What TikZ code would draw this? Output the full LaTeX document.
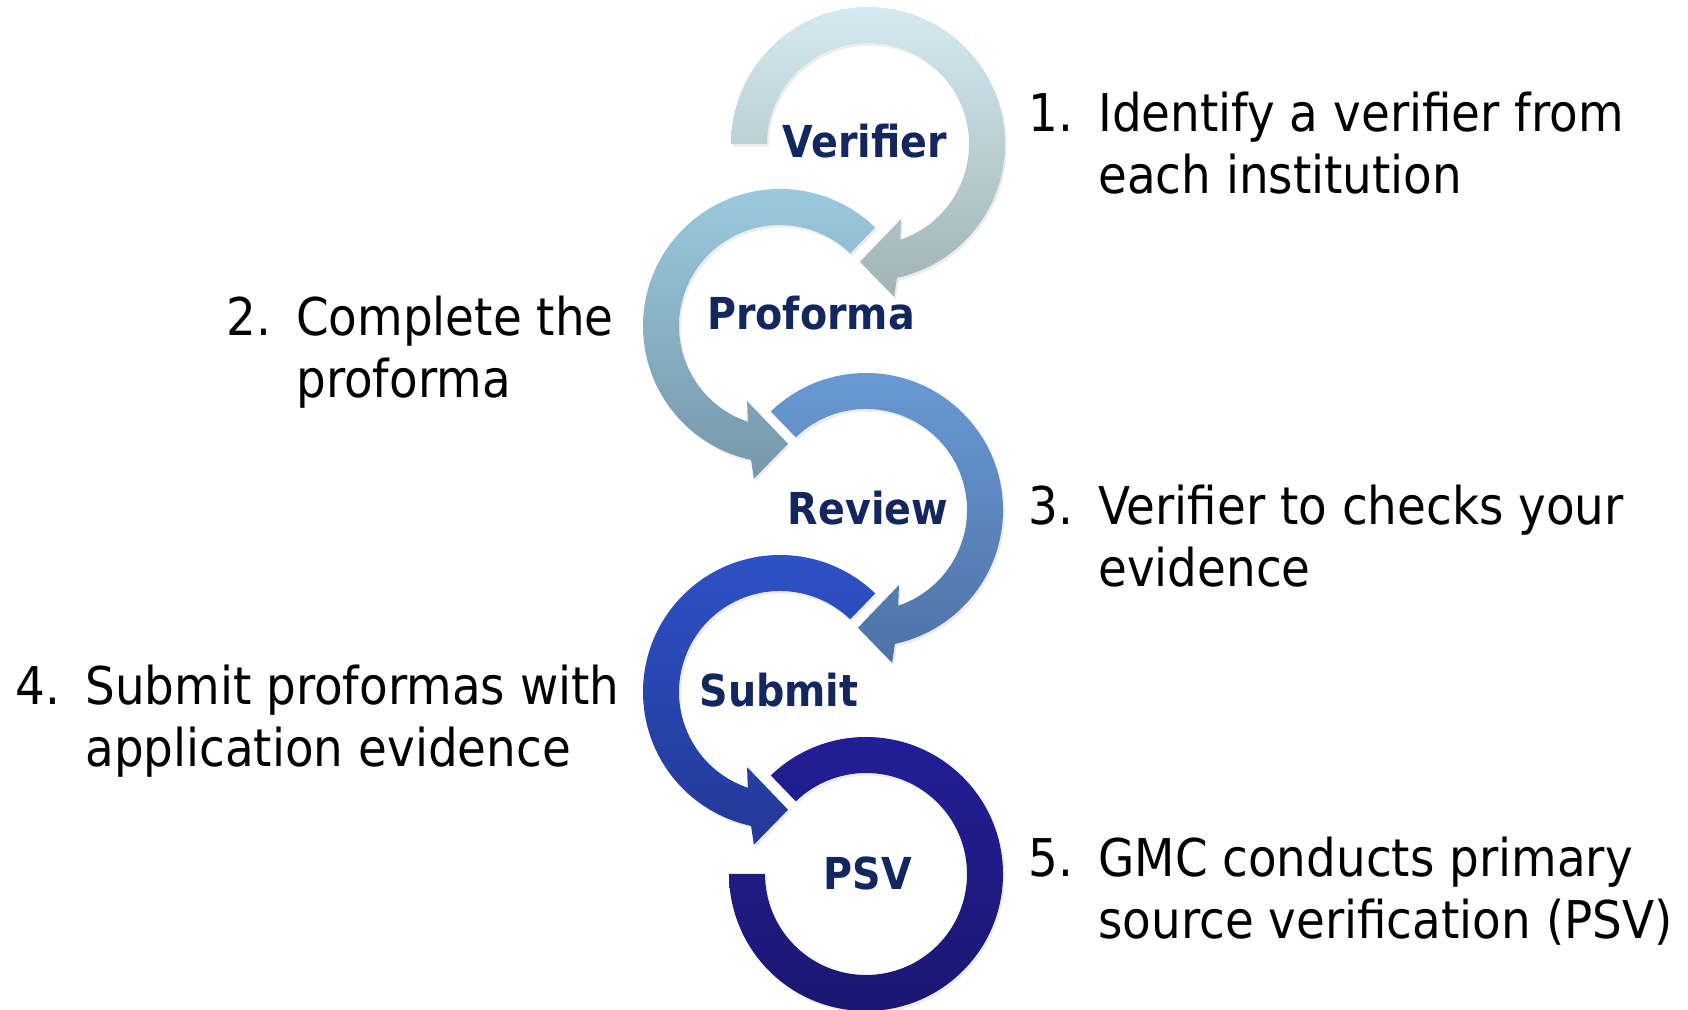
\documentclass[tikz,border=0pt]{standalone}
\usepackage{fontspec}
\usepackage{xcolor}
\usepackage{tikz}
\usetikzlibrary{calc,shadows}

\newfontfamily\stepfont{DejaVu Sans}[FakeStretch=0.9]
\newfontfamily\tagfont{DejaVu Sans}[FakeStretch=0.9]

\definecolor{navy}{HTML}{13275E}
\definecolor{oneTop}{HTML}{D4EAEE}
\definecolor{oneBot}{HTML}{A0B3B7}
\definecolor{twoTop}{HTML}{9CCBE0}
\definecolor{twoBot}{HTML}{7697A9}
\definecolor{threeTop}{HTML}{6A9BD5}
\definecolor{threeBot}{HTML}{4E72A6}
\definecolor{fourTop}{HTML}{2E52C9}
\definecolor{fourBot}{HTML}{223996}
\definecolor{fiveTop}{HTML}{221F98}
\definecolor{fiveBot}{HTML}{1A1770}

\begin{document}
\begin{tikzpicture}[
  x=0.025cm, y=0.025cm,
  ring/.style={drop shadow={opacity=0.15, shadow xshift=1.2pt, shadow yshift=-1.8pt}},
  ringA/.style={ring, top color=oneTop,   bottom color=oneBot},
  ringB/.style={ring, top color=twoTop,   bottom color=twoBot},
  ringC/.style={ring, top color=threeTop, bottom color=threeBot},
  ringD/.style={ring, top color=fourTop,  bottom color=fourBot},
  ringE/.style={ring, top color=fiveTop,  bottom color=fiveBot},
  tag/.style={anchor=base, inner sep=0pt, text=navy,
              font=\tagfont\bfseries\fontsize{31.3}{36}\selectfont},
  stepnote/.style={anchor=base west, inner sep=0pt, text=black,
              font=\stepfont\fontsize{37}{44}\selectfont},
]
\useasboundingbox (0,0) rectangle (1688,1010);

\coordinate (c1) at (868,866);
\coordinate (c2) at (780,684);
\coordinate (c3) at (866,500);
\coordinate (c4) at (780,318);
\coordinate (c5) at (866,136);

% clockwise rings
\path[ringA] ($(c1)+(180:137)$) arc[start angle=180, end angle=-77.8, radius=137]
  -- ($(c1)+(-80.3:155)$) -- ($(c1)+(-93.9:118)$) -- ($(c1)+(-66.3:82)$)
  -- ($(c1)+(-71.4:101)$) arc[start angle=-71.4, end angle=180, radius=101] -- cycle;
\path[ringC] ($(c3)+(134:137)$) arc[start angle=134, end angle=-77.8, radius=137]
  -- ($(c3)+(-80.3:155)$) -- ($(c3)+(-93.9:118)$) -- ($(c3)+(-66.3:82)$)
  -- ($(c3)+(-71.4:101)$) arc[start angle=-71.4, end angle=134, radius=101] -- cycle;

% anticlockwise rings
\path[ringB] ($(c2)+(46:137)$) arc[start angle=46, end angle=257.8, radius=137]
  -- ($(c2)+(260.3:155)$) -- ($(c2)+(273.9:118)$) -- ($(c2)+(246.3:82)$)
  -- ($(c2)+(251.4:101)$) arc[start angle=251.4, end angle=46, radius=101] -- cycle;
\path[ringD] ($(c4)+(46:137)$) arc[start angle=46, end angle=257.8, radius=137]
  -- ($(c4)+(260.3:155)$) -- ($(c4)+(273.9:118)$) -- ($(c4)+(246.3:82)$)
  -- ($(c4)+(251.4:101)$) arc[start angle=251.4, end angle=46, radius=101] -- cycle;

% last ring, no head
\path[ringE] ($(c5)+(134:137)$) arc[start angle=134, end angle=-180, radius=137]
  -- ($(c5)+(180:101)$) arc[start angle=-180, end angle=134, radius=101] -- cycle;

\node[tag] (verifier) at (865,852) {Verifier};
\node[tag] (proforma) at (811,680) {Proforma};
\node[tag] (review)   at (868,485) {Review};
\node[tag] (submit)   at (779,303) {Submit};
\node[tag] (psv)      at (868,120) {PSV};

\node[stepnote] (s1) at (1028,878) {\begin{tabular}[t]{@{}p{1.75cm}@{}l@{}}
  1.& Identify a verifier from\\ & each institution\end{tabular}};
\node[stepnote] (s2) at (226,674) {\begin{tabular}[t]{@{}p{1.75cm}@{}l@{}}
  2.& Complete the\\ & proforma\end{tabular}};
\node[stepnote] (s3) at (1028,485) {\begin{tabular}[t]{@{}p{1.75cm}@{}l@{}}
  3.& Verifier to checks your\\ & evidence\end{tabular}};
\node[stepnote] (s4) at (15,305) {\begin{tabular}[t]{@{}p{1.75cm}@{}l@{}}
  4.& Submit proformas with\\ & application evidence\end{tabular}};
\node[stepnote] (s5) at (1028,133) {\begin{tabular}[t]{@{}p{1.75cm}@{}l@{}}
  5.& GMC conducts primary\\ & source verification (PSV)\end{tabular}};
\end{tikzpicture}
\end{document}
